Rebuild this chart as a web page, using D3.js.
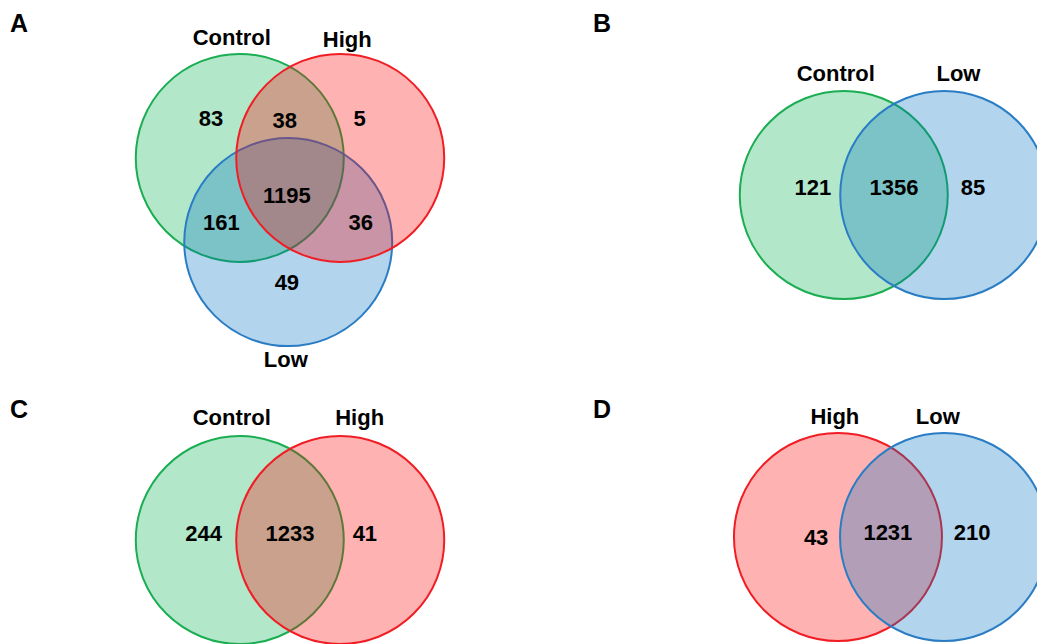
<!DOCTYPE html>
<html>
<head>
<meta charset="utf-8">
<script src="https://cdn.jsdelivr.net/npm/d3@7"></script>
<style>
  body { margin: 0; background: #fff; }
  svg { display: block; }
  text { font-family: "Liberation Sans", Arial, sans-serif; font-weight: bold; fill: #000; }
</style>
</head>
<body>
<svg id="mySvg" width="1037" height="644"></svg>
<script>
// data: set names and region counts for each panel
var panelLetters = ["A", "B", "C", "D"];
var setsA = ["Control", "High", "Low"];
var setsB = ["Control", "Low"];
var setsC = ["Control", "High"];
var setsD = ["High", "Low"];
// regions: list of sets each region belongs to, and its count
var regionsA = [["Control"], ["Control", "High"], ["High"], ["Control", "High", "Low"], ["Control", "Low"], ["High", "Low"], ["Low"]];
var countsA = [83, 38, 5, 1195, 161, 36, 49];
var regionsB = [["Control"], ["Control", "Low"], ["Low"]];
var countsB = [121, 1356, 85];
var regionsC = [["Control"], ["Control", "High"], ["High"]];
var countsC = [244, 1233, 41];
var regionsD = [["High"], ["High", "Low"], ["Low"]];
var countsD = [43, 1231, 210];

var setColor = { Control: "#00b050", High: "#ff0000", Low: "#0070c0" };
var setStroke = { Control: "#1aad52", High: "#f01e24", Low: "#2a7dc4" };

var svgWidth = 1037, svgHeight = 644;
var radius = 104;

// layout in units of the circle radius, relative to the panel centre
var panels = [
    { letter: panelLetters[0], sets: setsA, regions: regionsA, counts: countsA,
      origin: [290, 187], letterPos: [10, 32],
      centres: [[-0.483, -0.28], [0.483, -0.28], [-0.017, 0.53]],
      order: ["Control", "Low", "High"],
      labels: [[-0.56, -1.44], [0.55, -1.42], [-0.04, 1.65]],
      spots: [[-0.76, -0.66], [-0.05, -0.64], [0.67, -0.66], [-0.03, 0.08], [-0.66, 0.34], [0.68, 0.34], [-0.03, 0.91]] },
    { letter: panelLetters[1], sets: setsB, regions: regionsB, counts: countsB,
      origin: [894, 195], letterPos: [593, 32],
      centres: [[-0.483, 0], [0.483, 0]],
      order: ["Control", "Low"],
      labels: [[-0.56, -1.17], [0.62, -1.17]],
      spots: [[-0.78, -0.08], [0, -0.08], [0.76, -0.08]] },
    { letter: panelLetters[2], sets: setsC, regions: regionsC, counts: countsC,
      origin: [290, 540], letterPos: [10, 418],
      centres: [[-0.483, 0], [0.483, 0]],
      order: ["Control", "High"],
      labels: [[-0.56, -1.18], [0.67, -1.18]],
      spots: [[-0.83, -0.07], [0, -0.07], [0.72, -0.07]] },
    { letter: panelLetters[3], sets: setsD, regions: regionsD, counts: countsD,
      origin: [891, 537], letterPos: [593, 418],
      centres: [[-0.51, 0], [0.51, 0]],
      order: ["High", "Low"],
      labels: [[-0.54, -1.16], [0.45, -1.16]],
      spots: [[-0.72, 0.0], [-0.03, -0.05], [0.78, -0.05]] }
];

var svg = d3.select("#mySvg");

panels.forEach(function(p) {
    var x = d3.scaleLinear().domain([-1, 1]).range([p.origin[0] - radius, p.origin[0] + radius]);
    var y = d3.scaleLinear().domain([-1, 1]).range([p.origin[1] - radius, p.origin[1] + radius]);

    var g = svg.append("g").attr("class", "panel");

    var circles = p.sets.map(function(s, i) {
        return { name: s, cx: p.centres[i][0], cy: p.centres[i][1] };
    });
    circles.sort(function(a, b) { return p.order.indexOf(a.name) - p.order.indexOf(b.name); });

    g.selectAll("circle")
        .data(circles)
        .enter()
        .append("circle")
        .attr("cx", d => x(d.cx))
        .attr("cy", d => y(d.cy))
        .attr("r", x(1) - x(0))
        .attr("fill", d => setColor[d.name])
        .attr("fill-opacity", 0.3)
        .attr("stroke", d => setStroke[d.name])
        .attr("stroke-width", 2);

    g.selectAll(".setLabel")
        .data(p.sets)
        .enter()
        .append("text")
        .attr("class", "setLabel")
        .attr("x", (d, i) => x(p.labels[i][0]))
        .attr("y", (d, i) => y(p.labels[i][1]))
        .attr("dy", "0.36em")
        .attr("text-anchor", "middle")
        .attr("font-size", 22)
        .text(d => d);

    g.selectAll(".count")
        .data(p.counts)
        .enter()
        .append("text")
        .attr("class", "count")
        .attr("x", (d, i) => x(p.spots[i][0]))
        .attr("y", (d, i) => y(p.spots[i][1]))
        .attr("dy", "0.36em")
        .attr("text-anchor", "middle")
        .attr("font-size", 22)
        .text(d => d);

    svg.append("text")
        .attr("x", p.letterPos[0])
        .attr("y", p.letterPos[1])
        .attr("font-size", 25)
        .text(p.letter);
});
</script>
</body>
</html>
